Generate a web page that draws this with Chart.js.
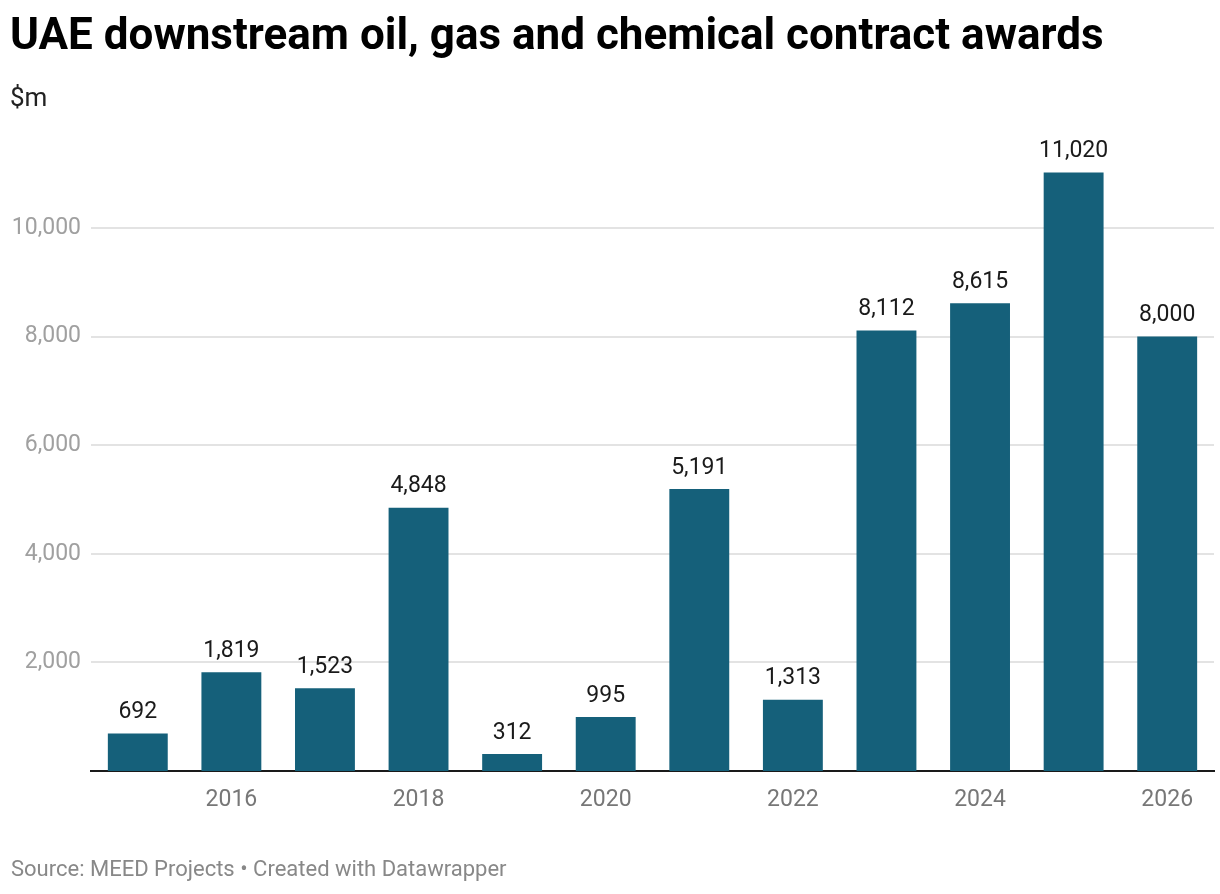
<!DOCTYPE html>
<html>
<head>
<meta charset="utf-8">
<script src="https://cdn.jsdelivr.net/npm/chart.js@4"></script>
<style>
  html, body { margin: 0; padding: 0; background: #fff; }
  body { width: 1220px; height: 894px; position: relative; overflow: hidden; font-family: Roboto, "Noto Sans", sans-serif; }
  #title { position: absolute; left: 10px; top: 8px; font-size: 44px; line-height: 52px; font-weight: 700; color: #000; white-space: nowrap; }
  #unit { position: absolute; left: 10px; top: 82px; font-size: 26px; line-height: 31px; color: #222; }
  #source { position: absolute; left: 11px; top: 856px; font-size: 22px; line-height: 26px; color: #888; white-space: nowrap; }
  #wrap { position: absolute; left: 0; top: 0; width: 1220px; height: 894px; }
</style>
</head>
<body>
<div id="wrap"><canvas id="c" width="1220" height="894"></canvas></div>
<div id="title">UAE downstream oil, gas and chemical contract awards</div>
<div id="unit">$m</div>
<div id="source">Source: MEED Projects • Created with Datawrapper</div>
<script>
const years = ["2015","2016","2017","2018","2019","2020","2021","2022","2023","2024","2025","2026"];
const awards = [692, 1819, 1523, 4848, 312, 995, 5191, 1313, 8112, 8615, 11020, 8000];
const yTicks = [2000, 4000, 6000, 8000, 10000];

const fmt = v => v.toLocaleString('en-US');

const valueLabels = {
  id: 'valueLabels',
  afterDatasetsDraw(chart) {
    const ctx = chart.ctx;
    const meta = chart.getDatasetMeta(0);
    ctx.save();
    ctx.font = '23px Roboto';
    ctx.fillStyle = '#1a1a1a';
    ctx.textAlign = 'center';
    ctx.textBaseline = 'middle';
    meta.data.forEach((bar, i) => {
      ctx.fillText(fmt(awards[i]), bar.x, bar.y - 21);
    });
    ctx.restore();
  }
};

new Chart(document.getElementById('c'), {
  type: 'bar',
  data: {
    labels: years,
    datasets: [{
      data: awards,
      backgroundColor: '#15607a',
      barPercentage: 0.64,
      categoryPercentage: 1.0
    }]
  },
  options: {
    responsive: false,
    animation: false,
    devicePixelRatio: 1,
    layout: { padding: { top: 146.5, right: 6, bottom: 73, left: 0 } },
    plugins: { legend: { display: false }, tooltip: { enabled: false } },
    scales: {
      x: {
        grid: { display: false, drawTicks: false },
        border: { display: true, color: '#1a1a1a', width: 2 },
        ticks: {
          autoSkip: false,
          maxRotation: 0,
          padding: 15,
          color: '#777',
          font: { family: 'Roboto', size: 23 },
          callback: function(v, i) { const y = years[i]; return (parseInt(y) % 2 === 0) ? y : ''; }
        },
        afterFit(scale) { scale.height = 50; }
      },
      y: {
        min: 0,
        max: 11500,
        afterBuildTicks(scale) { scale.ticks = yTicks.map(v => ({ value: v })); },
        grid: { color: '#e3e3e3', lineWidth: 2, drawTicks: false },
        border: { display: false },
        ticks: {
          padding: 10,
          color: '#a0a0a0',
          font: { family: 'Roboto', size: 23 },
          callback: v => fmt(v)
        },
        afterFit(scale) { scale.width = 91; }
      }
    }
  },
  plugins: [valueLabels]
});
</script>
</body>
</html>
